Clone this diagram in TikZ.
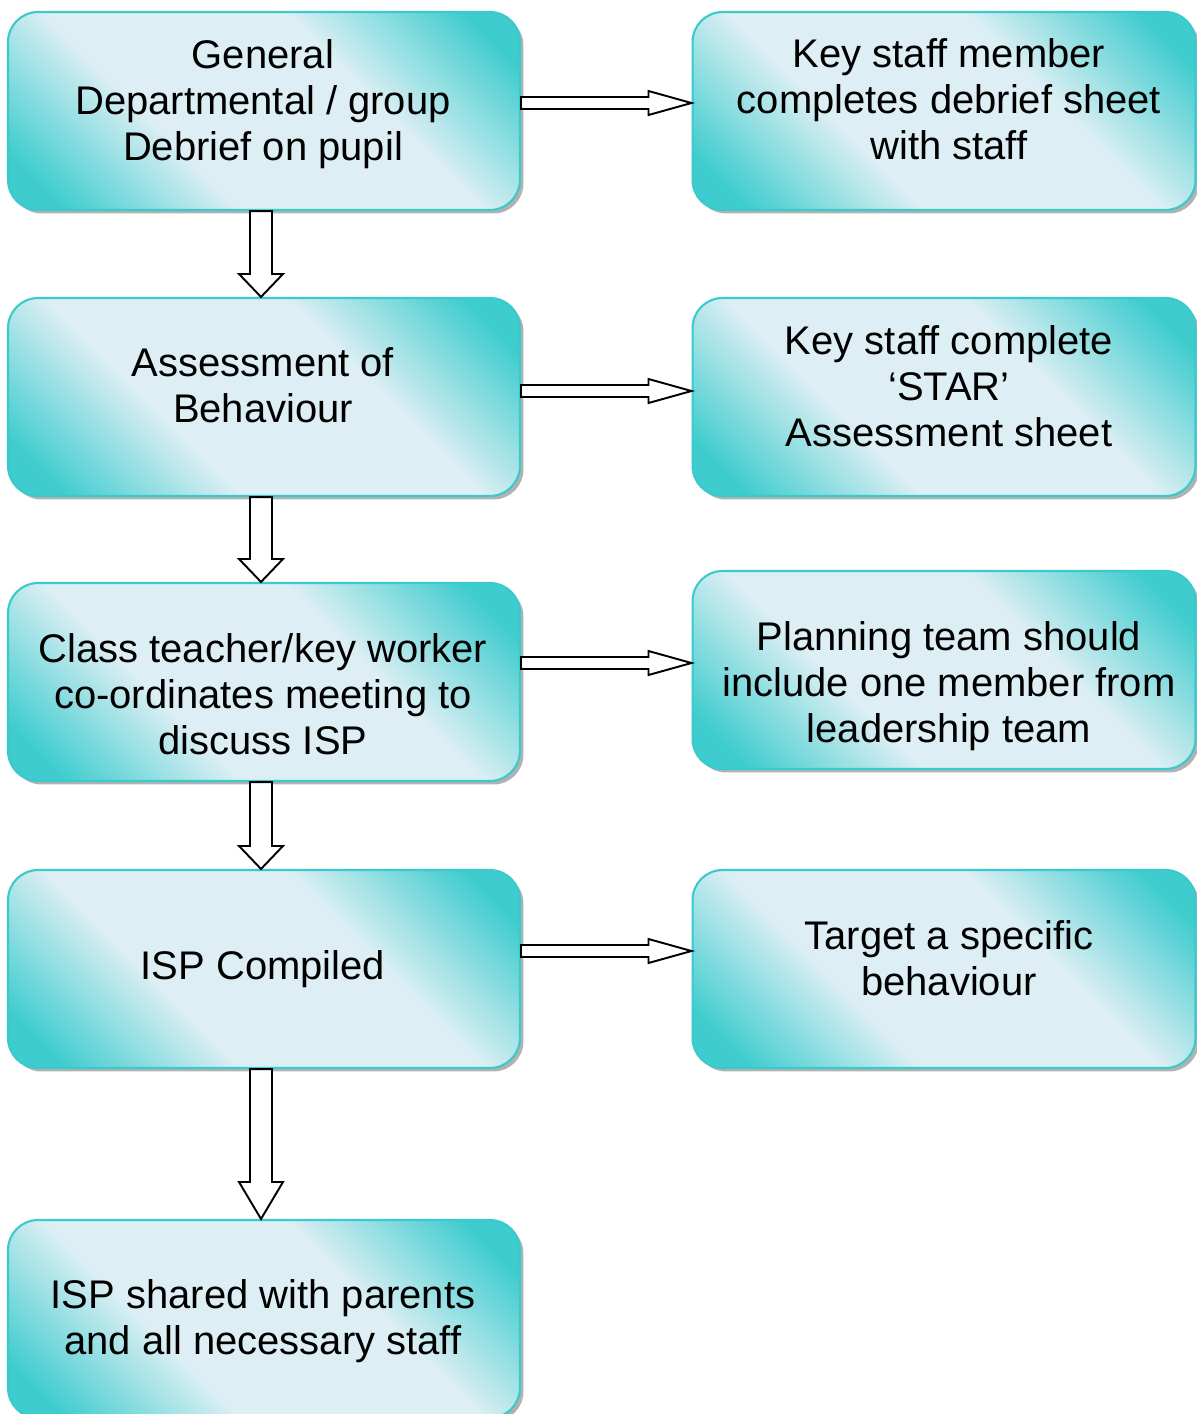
\documentclass[tikz,border=0pt]{standalone}
\usepackage{fontspec}
\setmainfont{Liberation Sans}
\usetikzlibrary{calc,shadows}
\definecolor{tealc}{RGB}{62,204,206}
\definecolor{lightc}{RGB}{221,239,244}
\definecolor{bordc}{RGB}{58,202,204}
\pgfdeclareverticalshading{boxshade}{100bp}{color(0bp)=(tealc); color(20bp)=(tealc); color(38bp)=(lightc); color(62bp)=(lightc); color(80bp)=(tealc); color(100bp)=(tealc)}
\tikzset{
  box/.style={draw=bordc, line width=1.2pt, rounded corners=0.6cm,
    minimum width=10.24cm, minimum height=3.96cm,
    shading=boxshade, shading angle=-45,
    drop shadow={shadow xshift=0.07cm, shadow yshift=-0.07cm, fill=gray!60, opacity=1}},
  rbox/.style={box, minimum width=10.06cm},
  txt/.style={align=center, inner sep=0pt, font=\fontsize{22.75}{26.2}\selectfont},
  blockarr/.style={draw=black, fill=white, line width=1.1pt, line join=miter}
}
% block arrows: from node, to node, shift
\newcommand{\harr}[3]{%
  \draw[blockarr] let \p1=($(#1.east)+(0,#3)$), \p2=(#2.west) in
    (\x1,\y1+0.12cm) -- (\x2-0.86cm,\y1+0.12cm) -- (\x2-0.86cm,\y1+0.24cm) -- (\x2,\y1)
    -- (\x2-0.86cm,\y1-0.24cm) -- (\x2-0.86cm,\y1-0.12cm) -- (\x1,\y1-0.12cm) -- cycle;}
\newcommand{\varr}[3]{%
  \draw[blockarr] let \p1=($(#1.south)+(-3,0)$), \p2=(#2.north) in
    (\x1-0.22cm,\y1) -- (\x1-0.22cm,\y2+#3) -- (\x1-0.44cm,\y2+#3) -- (\x1,\y2)
    -- (\x1+0.44cm,\y2+#3) -- (\x1+0.22cm,\y2+#3) -- (\x1+0.22cm,\y1) -- cycle;}
\begin{document}
\begin{tikzpicture}[x=0.02cm, y=-0.02cm]
            \useasboundingbox (0,0) rectangle (1197,1414);
            %Boxes
            \node[box] at (264,111)  (gen)    {};
            \node[box] at (264,397)  (assess) {};
            \node[box] at (264,682)  (meet)   {};
            \node[box] at (264,969)  (comp)   {};
            \node[box] at (264,1319) (share)  {};
            \node[rbox] at (944,111) (debrief) {};
            \node[rbox] at (944,397) (star)    {};
            \node[rbox] at (944,670) (plan)    {};
            \node[rbox] at (944,969) (target)  {};

            %Texts
            \node[txt] at (263,104)  (gen-t)    {General\\Departmental / group\\Debrief on pupil};
            \node[txt] at (263,385)  (assess-t) {Assessment of\\Behaviour};
            \node[txt] at (263,694)  (meet-t)   {Class teacher/key worker\\co-ordinates meeting to\\discuss ISP};
            \node[txt] at (263,969)  (comp-t)   {ISP Compiled};
            \node[txt] at (263,1321) (share-t)  {ISP shared with parents\\and all necessary staff};
            \node[txt] at (949,99)   (debrief-t) {Key staff member\\completes debrief sheet\\with staff};
            \node[txt] at (949,386)  (star-t)    {Key staff complete\\‘STAR’\\Assessment sheet};
            \node[txt] at (949,686)  (plan-t)    {Planning team should\\include one member from\\leadership team};
            \node[txt] at (949,958)  (target-t)  {Target a specific\\behaviour};

            %Arrows
            \harr{gen}{debrief}{-8}
            \harr{assess}{star}{-6}
            \harr{meet}{plan}{-19}
            \harr{comp}{target}{-18}
            \varr{gen}{assess}{0.46cm}
            \varr{assess}{meet}{0.46cm}
            \varr{meet}{comp}{0.46cm}
            \varr{comp}{share}{0.74cm}
\end{tikzpicture}
\end{document}
